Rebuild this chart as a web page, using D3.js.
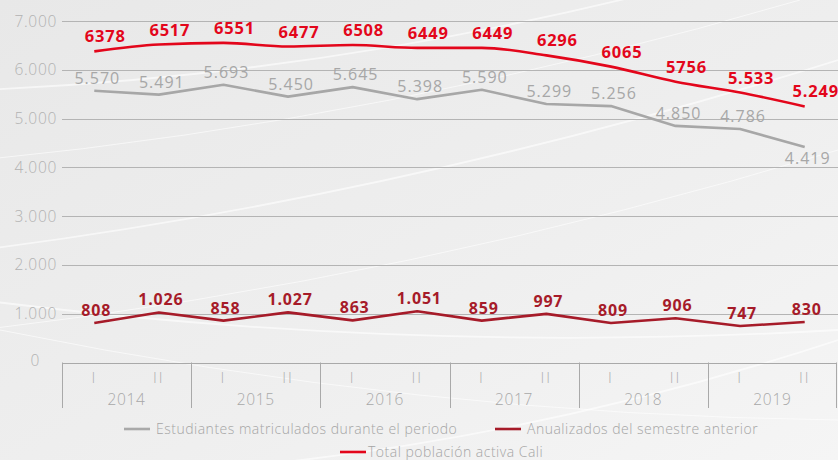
<!DOCTYPE html>
<html>
<head>
<meta charset="utf-8">
<script src="https://cdn.jsdelivr.net/npm/d3@7"></script>
<style>
  body { margin: 0; background: #eeeeee; }
  svg { display: block; font-family: "Open Sans", sans-serif; }
</style>
</head>
<body>
<div id="vis-container"></div>
<script>
var years = ["2014", "2015", "2016", "2017", "2018", "2019"];
var semesters = ["I", "II"];
var periods = [];
years.forEach(function(y) { semesters.forEach(function(s) { periods.push(y + "-" + s); }); });

var total = [6378, 6517, 6551, 6477, 6508, 6449, 6449, 6296, 6065, 5756, 5533, 5249];
var totalLabels = ["6378", "6517", "6551", "6477", "6508", "6449", "6449", "6296", "6065", "5756", "5.533", "5.249"];

var estudiantes = [5570, 5491, 5693, 5450, 5645, 5398, 5590, 5299, 5256, 4850, 4786, 4419];
var estudiantesLabels = ["5.570", "5.491", "5.693", "5.450", "5.645", "5.398", "5.590", "5.299", "5.256", "4.850", "4.786", "4.419"];

var anualizados = [808, 1026, 858, 1027, 863, 1051, 859, 997, 809, 906, 747, 830];
var anualizadosLabels = ["808", "1.026", "858", "1.027", "863", "1.051", "859", "997", "809", "906", "747", "830"];

var yTicks = [0, 1000, 2000, 3000, 4000, 5000, 6000, 7000];
var yTickLabels = ["0", "1.000", "2.000", "3.000", "4.000", "5.000", "6.000", "7.000"];

var makeVis = function() {
  var W = 838, H = 460;
  var plotLeft = 62, plotRight = 837, plotTop = 21, plotBottom = 362.5;

  var svg = d3.select("#vis-container").append("svg")
      .attr("width", W).attr("height", H);

  // background
  var defs = svg.append("defs");
  var grad = defs.append("linearGradient").attr("id", "bg")
      .attr("x1", "0").attr("y1", "0").attr("x2", "1").attr("y2", "1");
  grad.append("stop").attr("offset", "0").attr("stop-color", "#e8e8e8");
  grad.append("stop").attr("offset", "0.6").attr("stop-color", "#efefef");
  grad.append("stop").attr("offset", "1").attr("stop-color", "#f5f5f5");
  svg.append("rect").attr("width", W).attr("height", H).attr("fill", "url(#bg)");

  // decorative swooshes
  var swoosh = svg.append("g").attr("fill", "none").attr("stroke", "#ffffff");
  [[-20, 90, 700, -20], [-20, 160, 800, 0], [-20, 250, 838, 60], [-20, 330, 838, 150],
   [-20, 300, 838, 330], [0, 330, 838, 420], [200, 470, 838, 340]].forEach(function(s, i) {
    var p = d3.path();
    p.moveTo(s[0], s[1]);
    p.quadraticCurveTo((s[0] + s[2]) / 2, (s[1] + s[3]) / 2 + 40, s[2], s[3]);
    swoosh.append("path").attr("d", p.toString())
        .attr("stroke-width", i % 2 ? 1 : 1.8).attr("opacity", 0.6);
  });

  var x = d3.scaleBand().domain(periods).range([plotLeft, plotRight]);
  var xYear = d3.scaleBand().domain(years).range([plotLeft, plotRight]);
  var y = d3.scaleLinear().domain([0, 7000]).range([plotBottom, plotTop]);

  // grid
  svg.append("g").selectAll("line").data(yTicks.slice(1)).enter().append("line")
      .attr("x1", plotLeft).attr("x2", W)
      .attr("y1", function(d) { return Math.round(y(d)) + 0.5; })
      .attr("y2", function(d) { return Math.round(y(d)) + 0.5; })
      .attr("stroke", "#b4b4b4").attr("stroke-width", 1);

  svg.append("g").selectAll("text").data(yTicks).enter().append("text")
      .attr("x", function(d) { return d === 0 ? 40 : 57; })
      .attr("y", function(d) { return y(d) + (d === 0 ? 3 : 5.5); })
      .attr("text-anchor", "end")
      .attr("fill", "#b2b2b2").attr("font-size", 15.5).attr("font-weight", 300)
      .attr("letter-spacing", 0.7)
      .text(function(d, i) { return yTickLabels[i]; });

  // x axis box
  var axisG = svg.append("g").attr("stroke", "#a9a9a9").attr("stroke-width", 1);
  axisG.append("line").attr("x1", plotLeft).attr("x2", plotRight)
      .attr("y1", Math.round(plotBottom) + 0.5).attr("y2", Math.round(plotBottom) + 0.5);
  axisG.selectAll(".div").data(years.concat(["end"])).enter().append("line")
      .attr("x1", function(d) { return d === "end" ? plotRight - 0.5 : Math.round(xYear(d)) + 0.5; })
      .attr("x2", function(d) { return d === "end" ? plotRight - 0.5 : Math.round(xYear(d)) + 0.5; })
      .attr("y1", plotBottom).attr("y2", 408);

  svg.append("g").selectAll("text").data(periods).enter().append("text")
      .attr("x", function(d) { return x(d) + x.bandwidth() / 2; })
      .attr("y", 383)
      .attr("text-anchor", "middle")
      .attr("fill", "#b0b0b0").attr("font-size", 15).attr("font-weight", 300)
      .attr("letter-spacing", 2)
      .text(function(d) { return d.split("-")[1]; });

  svg.append("g").selectAll("text").data(years).enter().append("text")
      .attr("x", function(d) { return xYear(d) + xYear.bandwidth() / 2; })
      .attr("y", 404.5)
      .attr("text-anchor", "middle")
      .attr("fill", "#a8a8a8").attr("font-size", 15.5).attr("font-weight", 300)
      .attr("letter-spacing", 0.7)
      .text(function(d) { return d; });

  // series
  var cx = function(d, i) { return x(periods[i]) + x.bandwidth() / 2; };

  var series = [
    { values: estudiantes, labels: estudiantesLabels, color: "#a7a7a7", weight: 400, dx: 3, size: 16, curve: d3.curveLinear },
    { values: anualizados, labels: anualizadosLabels, color: "#a61b29", weight: 700, dx: 2, size: 16, curve: d3.curveLinear },
    { values: total, labels: totalLabels, color: "#e3061b", weight: 700, dx: 11, size: 16.5, curve: d3.curveMonotoneX }
  ];

  series.forEach(function(s) {
    var line = d3.line()
        .x(cx)
        .y(function(d) { return y(d); })
        .curve(s.curve);
    svg.append("path").datum(s.values)
        .attr("d", line)
        .attr("fill", "none").attr("stroke", s.color).attr("stroke-width", 2.6)
        .attr("stroke-linejoin", "round");

    svg.append("g").selectAll("text").data(s.values).enter().append("text")
        .attr("x", function(d, i) { return cx(d, i) + s.dx; })
        .attr("y", function(d, i) {
          if (s.values === estudiantes && i === s.values.length - 1) return y(d) + 17;
          return y(d) - (s.values === total ? 9 : 7);
        })
        .attr("text-anchor", "middle")
        .attr("fill", s.color).attr("font-size", s.size).attr("font-weight", s.weight)
        .attr("letter-spacing", s.weight === 700 ? 0.8 : 1)
        .text(function(d, i) { return s.labels[i]; });
  });

  // legend
  var legend = [
    { name: "Estudiantes matriculados durante el periodo", color: "#a9a9a9", x: 124, y: 429 },
    { name: "Anualizados del semestre anterior", color: "#a61b29", x: 495, y: 429 },
    { name: "Total población activa Cali", color: "#e3061b", x: 340, y: 452 }
  ];
  var lg = svg.append("g").selectAll("g").data(legend).enter().append("g")
      .attr("transform", function(d) { return "translate(" + d.x + "," + d.y + ")"; });
  lg.append("line").attr("x1", 0).attr("x2", 26).attr("y1", 0).attr("y2", 0)
      .attr("stroke", function(d) { return d.color; }).attr("stroke-width", 2.6);
  lg.append("text").attr("x", function(d, i) { return i === 2 ? 28 : 32; }).attr("y", 5)
      .attr("fill", "#a5a5a5").attr("font-size", 14).attr("font-weight", 300)
      .attr("letter-spacing", 0.5)
      .text(function(d) { return d.name; });
};

makeVis();
</script>
</body>
</html>
